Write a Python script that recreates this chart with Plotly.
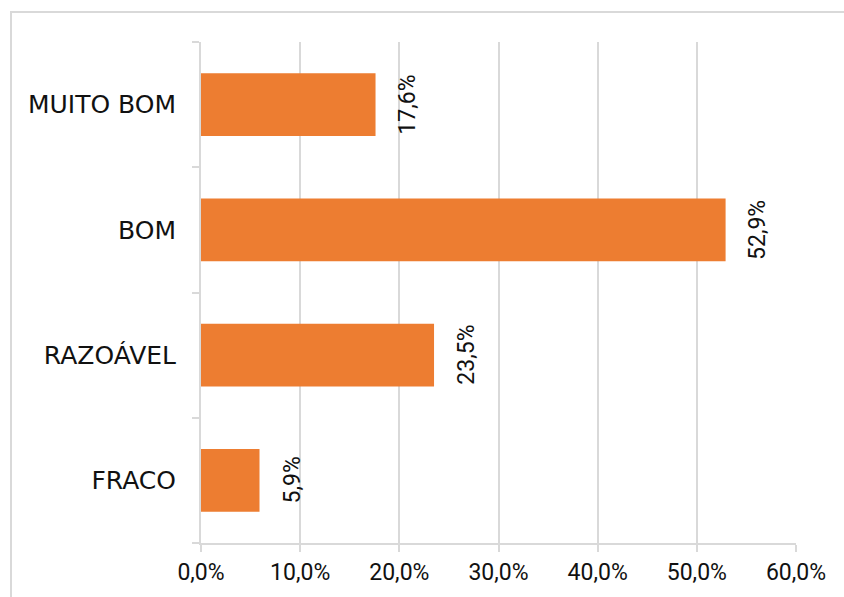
import plotly.graph_objects as go

categories = ["FRACO", "RAZOÁVEL", "BOM", "MUITO BOM"]
values = [5.9, 23.5, 52.9, 17.6]
labels = ["5,9%", "23,5%", "52,9%", "17,6%"]
tick_vals = [0, 10, 20, 30, 40, 50, 60]
tick_text = ["0,0%", "10,0%", "20,0%", "30,0%", "40,0%", "50,0%", "60,0%"]

grid = "#D9D9D9"
font_fam = "Roboto"

fig = go.Figure()
fig.add_trace(go.Bar(
    y=categories, x=values, orientation="h",
    marker=dict(color="#ED7D31", line=dict(width=0)),
    width=0.5, hoverinfo="skip",
))

for c, v, t in zip(categories, values, labels):
    fig.add_annotation(x=v, y=c, text=t, showarrow=False, textangle=-90,
                       xanchor="left", yanchor="middle", xshift=17,
                       font=dict(family=font_fam, size=23, color="#111111"))

fig.add_shape(type="rect", xref="paper", yref="paper",
              x0=(11 - 201) / 595, x1=1.3, y0=-0.3, y1=1 + (42 - 12) / 501,
              line=dict(color=grid, width=2), fillcolor="rgba(0,0,0,0)", layer="below")

fig.update_layout(
    width=844, height=597,
    margin=dict(l=201, r=48, t=42, b=54),
    paper_bgcolor="white", plot_bgcolor="white",
    showlegend=False,
    font=dict(family=font_fam, color="#111111"),
    xaxis=dict(range=[0, 60], tickvals=tick_vals, ticktext=tick_text,
               showgrid=True, gridcolor=grid, gridwidth=2,
               showline=True, linecolor=grid, linewidth=2,
               ticks="outside", ticklen=7, tickcolor=grid, tickwidth=2,
               tickfont=dict(size=23, family=font_fam, color="#111111"),
               zeroline=False, fixedrange=True),
    yaxis=dict(categoryorder="array", categoryarray=categories,
               showgrid=False, showline=True, linecolor=grid, linewidth=2,
               ticks="outside", ticklen=7, tickcolor=grid, tickwidth=2,
               tickson="boundaries", ticklabelstandoff=18,
               tickfont=dict(size=25, family="DejaVu Sans", color="#111111"),
               zeroline=False, fixedrange=True),
)

fig.write_html("out.html")
